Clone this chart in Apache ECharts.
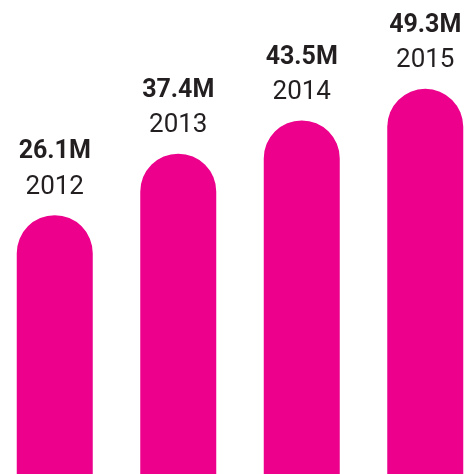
<!DOCTYPE html>
<html>
<head>
<meta charset="utf-8">
<style>
  html, body { margin: 0; padding: 0; background: #ffffff; overflow: hidden; width: 474px; height: 474px; }
  #chart { width: 494px; height: 474px; margin-left: -7px; }
</style>
<script src="https://cdn.jsdelivr.net/npm/echarts@6/dist/echarts.min.js"></script>
</head>
<body>
<div id="chart"></div>
<script>
// Data
const years = ['2012', '2013', '2014', '2015'];
const subscribers = [26.1, 37.4, 43.5, 49.3]; // millions
const valueUnit = 'M';

const chart = echarts.init(document.getElementById('chart'), null, { renderer: 'canvas' });

const option = {
  animation: false,
  backgroundColor: '#ffffff',
  grid: { left: 0, right: 0, top: 0, bottom: 0, containLabel: false },
  xAxis: {
    type: 'category',
    data: years,
    show: false,
    boundaryGap: true
  },
  yAxis: {
    type: 'value',
    show: false,
    min: -21.4,
    max: 65.6,
    startValue: -21.4,
    splitLine: { show: false }
  },
  series: [{
    type: 'bar',
    data: subscribers,
    barWidth: 76,
    itemStyle: { color: '#EC008C', borderRadius: [38, 38, 0, 0] },
    label: {
      show: true,
      position: 'top',
      distance: 11,
      formatter: function (p) {
        return '{v|' + p.value.toFixed(1) + valueUnit + '}\n{y|' + p.name + '}';
      },
      rich: {
        v: { fontFamily: 'Roboto', fontWeight: 'bold', fontSize: 25, lineHeight: 36, color: '#231F20', align: 'center' },
        y: { fontFamily: 'Roboto', fontWeight: 'normal', fontSize: 26, lineHeight: 34, color: '#231F20', align: 'center' }
      }
    }
  }]
};

chart.setOption(option);
</script>
</body>
</html>
